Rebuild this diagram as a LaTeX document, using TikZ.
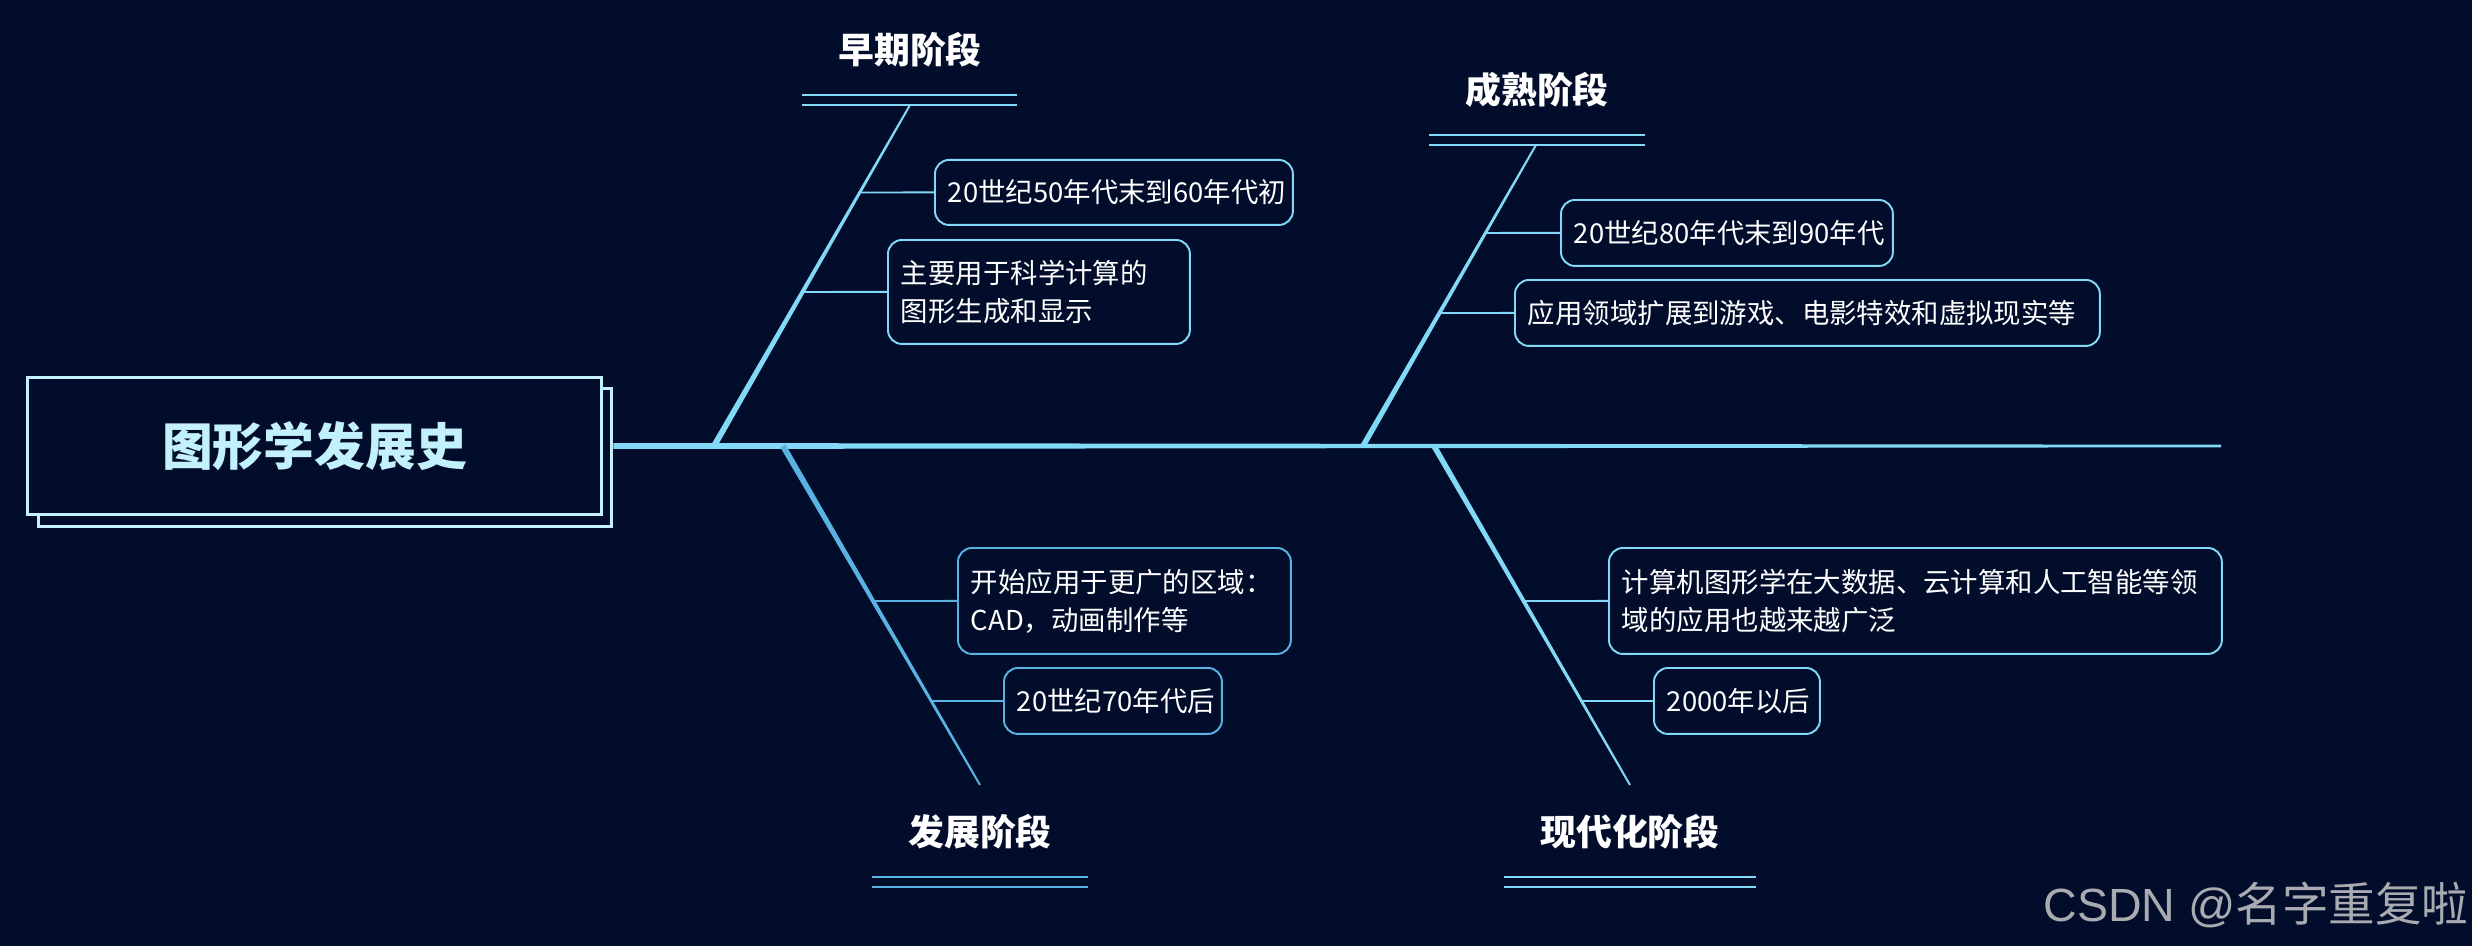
\documentclass[tikz,border=0pt]{standalone}
\usepackage{fontspec}
\setmainfont{Noto Sans CJK SC}
\newfontfamily\latinfont{Liberation Sans}
\usepackage{tikz}
\usetikzlibrary{calc}
\definecolor{bgnavy}{HTML}{020D2B}
\definecolor{lineblue}{HTML}{82D8F7}
\definecolor{deepblue}{HTML}{5AB2E2}
\definecolor{titlecyan}{HTML}{C3F1FB}
\definecolor{markgrey}{HTML}{A9ABB1}
% tapered bar: colour, from, to, half width at start, half width at end
\newcommand{\taper}[5]{%
  \fill[#1] ($(#2)!#4!90:(#3)$) -- ($(#2)!#4!-90:(#3)$)
    -- ($(#3)!#5!90:(#2)$) -- ($(#3)!#5!-90:(#2)$) -- cycle;}

\begin{document}
\begin{tikzpicture}[x=0.02cm,y=-0.02cm,
  headbox/.style={draw=titlecyan,line width=1.7pt,fill=bgnavy,inner sep=0pt},
  stagetitle/.style={text=white,font=\fontsize{20.4}{24}\selectfont\bfseries,inner sep=0pt},
  itembox/.style={draw=#1,line width=1.1pt,rounded corners=0.28cm,fill=bgnavy,text=white,
    anchor=north west,align=left,inner xsep=0.26cm,inner ysep=0pt,
    font=\fontsize{15.6}{21.5}\selectfont},
  itembox/.default=lineblue,
  twig/.style={line width=1.1pt},
  rulings/.style={line width=1.1pt}]
  \fill[bgnavy] (0,0) rectangle (2472,946);
  \useasboundingbox (0,0) rectangle (2472,946);

  \node[headbox,minimum width=11.48cm,minimum height=2.78cm] (shadow) at (325,457.5) {};
  \node[headbox,minimum width=11.5cm,minimum height=2.76cm,text=titlecyan,
    font=\fontsize{28.9}{34}\selectfont\bfseries] (head) at (314.5,446) {图形学发展史};

  \coordinate (tail) at (2221,446);
  \coordinate (s1) at (714,446);  \coordinate (e1) at (910,105);
  \coordinate (s2) at (1363,446); \coordinate (e2) at (1536,145);
  \coordinate (s3) at (783,446);  \coordinate (e3) at (980,785);
  \coordinate (s4) at (1434,446); \coordinate (e4) at (1630,785);

  \taper{lineblue}{shadow.east |- head.east}{tail}{1.7pt}{0.75pt}
  \taper{lineblue}{s1}{e1}{1.7pt}{0.55pt}
  \taper{lineblue}{s2}{e2}{1.6pt}{0.55pt}
  \taper{deepblue}{s3}{e3}{1.7pt}{0.55pt}
  \taper{lineblue}{s4}{e4}{1.6pt}{0.55pt}

  \node[stagetitle] (t1) at (910,50) {早期阶段};
  \node[stagetitle] (t2) at (1537,90) {成熟阶段};
  \node[stagetitle] (t3) at (980,832) {发展阶段};
  \node[stagetitle] (t4) at (1630,832) {现代化阶段};

  \draw[rulings,lineblue] (802,95) -- (1017,95) (802,105) -- (1017,105);
  \draw[rulings,lineblue] (1429,135) -- (1645,135) (1429,145) -- (1645,145);
  \draw[rulings,deepblue] (872,877) -- (1088,877) (872,887) -- (1088,887);
  \draw[rulings,lineblue] (1504,877) -- (1756,877) (1504,887) -- (1756,887);

  \node[itembox,minimum width=7.16cm,minimum height=1.3cm,text width=6.64cm] (a1) at (934,159)
    {20世纪50年代末到60年代初};
  \node[itembox,minimum width=6.04cm,minimum height=2.08cm,text width=5.52cm] (a2) at (887,239)
    {主要用于科学计算的\\图形生成和显示};
  \node[itembox,minimum width=6.64cm,minimum height=1.32cm,text width=6.12cm] (b1) at (1560,199)
    {20世纪80年代末到90年代};
  \node[itembox,minimum width=11.7cm,minimum height=1.32cm,text width=11.18cm] (b2) at (1514,279)
    {应用领域扩展到游戏、电影特效和虚拟现实等};
  \node[itembox=deepblue,minimum width=6.66cm,minimum height=2.12cm,text width=6.14cm] (c1) at (957,547)
    {开始应用于更广的区域：\\CAD，动画制作等};
  \node[itembox=deepblue,minimum width=4.36cm,minimum height=1.32cm,text width=3.84cm] (c2) at (1003,667)
    {20世纪70年代后};
  \node[itembox,minimum width=12.26cm,minimum height=2.12cm,text width=11.74cm] (d1) at (1608,547)
    {计算机图形学在大数据、云计算和人工智能等领\\域的应用也越来越广泛};
  \node[itembox,minimum width=3.32cm,minimum height=1.32cm,text width=2.8cm] (d2) at (1653,667)
    {2000年以后};

  \draw[twig,lineblue] (a1.west) -- (intersection of s1--e1 and a1.west--a1.east);
  \draw[twig,lineblue] (a2.west) -- (intersection of s1--e1 and a2.west--a2.east);
  \draw[twig,lineblue] (b1.west) -- (intersection of s2--e2 and b1.west--b1.east);
  \draw[twig,lineblue] (b2.west) -- (intersection of s2--e2 and b2.west--b2.east);
  \draw[twig,deepblue] (c1.west) -- (intersection of s3--e3 and c1.west--c1.east);
  \draw[twig,deepblue] (c2.west) -- (intersection of s3--e3 and c2.west--c2.east);
  \draw[twig,lineblue] (d1.west) -- (intersection of s4--e4 and d1.west--d1.east);
  \draw[twig,lineblue] (d2.west) -- (intersection of s4--e4 and d2.west--d2.east);

  \node[text=markgrey,font=\fontsize{26.5}{30}\selectfont,inner sep=0pt] (mark) at (2256,905)
    {{\latinfont CSDN @}名字重复啦};
\end{tikzpicture}
\end{document}
